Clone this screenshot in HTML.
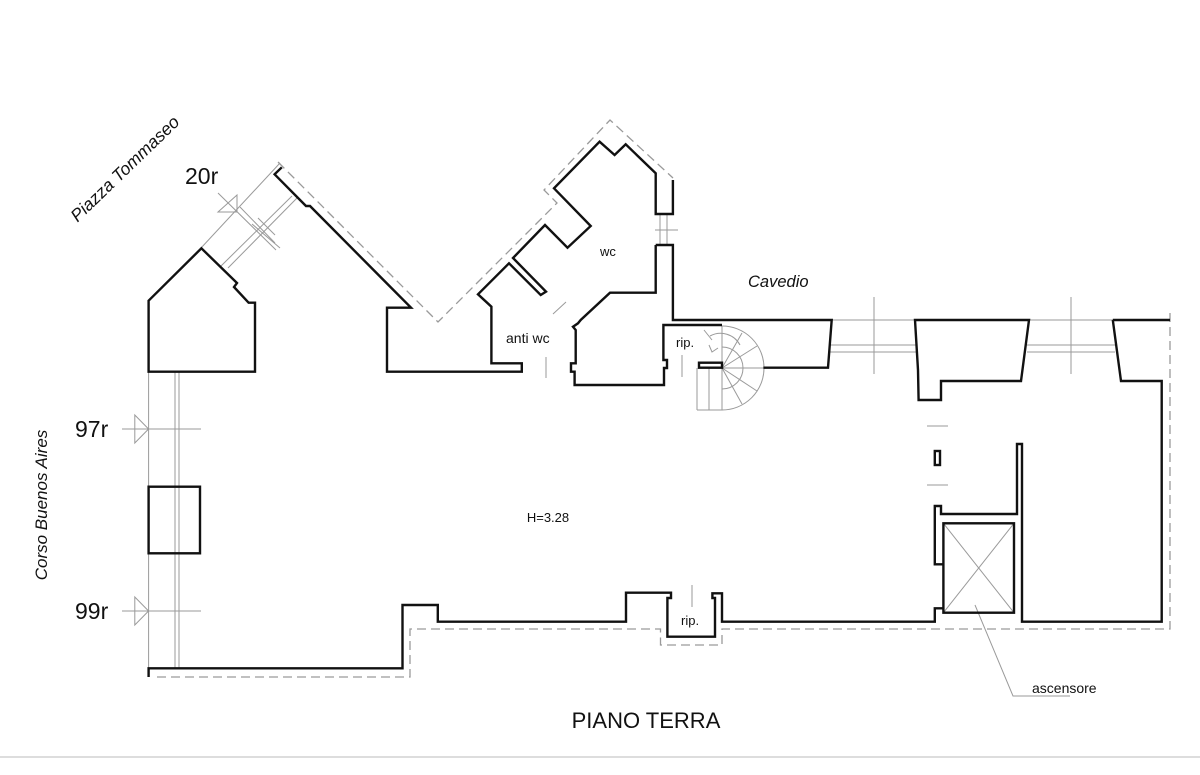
<!DOCTYPE html>
<html><head><meta charset="utf-8"><style>
html,body{margin:0;padding:0;background:#fff;}
svg{display:block;}
text{font-family:"Liberation Sans",sans-serif;fill:#111;}
</style></head><body>
<svg width="1200" height="775" viewBox="0 0 1200 775" xmlns="http://www.w3.org/2000/svg">
<rect width="1200" height="775" fill="#fff"/>
<g stroke="#9a9a9a" stroke-width="1" fill="none">
  <line x1="148.6" y1="372" x2="148.6" y2="668"/>
  <line x1="175" y1="372" x2="175" y2="668"/>
  <line x1="179" y1="372" x2="179" y2="668"/>
  <line x1="122" y1="429" x2="201" y2="429"/>
  <line x1="122" y1="611" x2="201" y2="611"/>
  <polygon points="134.8,415 148.6,429 134.8,443"/>
  <polygon points="134.8,597 148.6,611 134.8,625"/>
  <line x1="201" y1="248" x2="280" y2="163"/>
  <line x1="221" y1="266" x2="292" y2="196"/>
  <line x1="228" y1="268" x2="297" y2="198"/>
  <line x1="218" y1="193" x2="276" y2="250"/>
  <line x1="240" y1="207" x2="275" y2="243"/>
  <line x1="252" y1="224" x2="280" y2="248"/>
  <polygon points="218,212 237,195 237,212" />
  <line x1="258" y1="218" x2="275" y2="235"/>
  <line x1="831" y1="320" x2="915" y2="320"/>
  <line x1="830" y1="345" x2="917" y2="345"/>
  <line x1="830" y1="352" x2="917" y2="352"/>
  <line x1="1029" y1="320" x2="1113" y2="320"/>
  <line x1="1027" y1="345" x2="1115" y2="345"/>
  <line x1="1027" y1="352" x2="1115" y2="352"/>
  <line x1="1113" y1="320" x2="1170" y2="320"/>
  <line x1="874" y1="297" x2="874" y2="374"/>
  <line x1="1071" y1="297" x2="1071" y2="374"/>
  <line x1="660" y1="214" x2="660" y2="245"/>
  <line x1="667" y1="214" x2="667" y2="245"/>
  <line x1="655" y1="230" x2="678" y2="230"/>
  <line x1="546" y1="357" x2="546" y2="378"/>
  <line x1="553" y1="314" x2="566" y2="302"/>
  <line x1="682" y1="355" x2="682" y2="377"/>
  <line x1="692" y1="585" x2="692" y2="607"/>
  <line x1="927" y1="426" x2="948" y2="426"/>
  <line x1="927" y1="485" x2="948" y2="485"/>
  <line x1="943.4" y1="564" x2="943.4" y2="608"/>
  <path d="M722,326 A42,42 0 0 1 722,410"/>
  <path d="M722,347 A21,21 0 0 1 722,389"/>
  <line x1="722" y1="326" x2="722" y2="410"/>
  <line x1="697" y1="368" x2="697" y2="410"/>
  <line x1="709" y1="368" x2="709" y2="410"/>
  <line x1="697" y1="410" x2="722" y2="410"/>
  <line x1="722" y1="368" x2="742" y2="333"/>
  <line x1="722" y1="368" x2="757" y2="346"/>
  <line x1="722" y1="368" x2="764" y2="368"/>
  <line x1="722" y1="368" x2="757" y2="391"/>
  <line x1="722" y1="368" x2="742" y2="404"/>
  <path d="M710,336 A22,22 0 0 1 740,345"/>
  <line x1="704" y1="330" x2="712" y2="340"/>
  <polyline points="709,345 712,352 718,348"/>
  <line x1="943.4" y1="523.3" x2="1014" y2="612.7"/>
  <line x1="1014" y1="523.3" x2="943.4" y2="612.7"/>
  <polyline points="975,605 1013,696 1070,696"/>
</g>
<g stroke="#9a9a9a" stroke-width="1.3" fill="none" stroke-dasharray="9,5">
  <polyline points="278,162 438,322 557,203 544,190 610,120 673,178"/>
  <polyline points="157,677 410,677 410,629 660.5,629 660.5,645 722,645 722,629 1170,629 1170,312"/>
</g>
<g stroke="#111" stroke-width="2.4" fill="none" stroke-linejoin="miter">
  <polygon points="148.6,300.7 201.4,248.3 237,283 234,287 248.6,302.7 255,302.7 255,371.7 148.6,371.7"/>
  <polyline points="281.8,167.3 274.6,174.3 306,206 310,206 411,307.7 387,307.7 387,371.7 521.8,371.7 521.8,363.3 491.4,363.3 491.4,306.7 478,294.3 509,263.3 540.7,295 546,291.7 513,258 545,225 567.5,247.7 590.7,226 554,188.3 599.6,141.7 614.6,155 625.7,144.3 655.7,173.3 655.7,214 672.9,214 672.9,180"/>
  <polyline points="655.7,245 672.9,245 672.9,320 831.7,320 828,367.7 763.4,367.7"/>
  <polyline points="655.7,245 655.7,292.7 610,292.7 580.7,320 578,323.3 573,326.7 575.7,330 575.7,363.3 571,363.3 571,371.7 574.6,371.7 574.6,385 664,385 664,368 667,368 667,360 663.4,360 663.4,325 722,325"/>
  <rect x="699" y="362.7" width="23" height="5" />
  <polygon points="915,320 1029,320 1021,381 941,381 941,400 918.6,400 918,370"/>
  <polyline points="1112.8,320 1170,320"/>
  <polyline points="1112.8,320 1121,381 1161.7,381 1161.7,621.7 1022,621.7 1022,444 1017,444 1017,514 941,514 941,506 934.8,506 934.8,564.3 943.4,564.3"/>
  <rect x="943.4" y="523.3" width="70.6" height="89.4"/>
  <polyline points="943.4,608.3 934.8,608.3 934.8,621.7 722,621.7 722,593.3 712.4,593.3 712.4,598 715,598 715,636.7 667.4,636.7 667.4,598 671,598 671,592.7 626,592.7 626,621.7 437.8,621.7 437.8,605 402.5,605 402.5,668.3 148.6,668.3 148.6,677"/>
  <rect x="148.6" y="486.7" width="51.4" height="66.6"/>
  <rect x="934.8" y="451" width="5.2" height="14"/>
</g>
<text x="75" y="437" font-size="23">97r</text>
<text x="75" y="619" font-size="23">99r</text>
<text x="185" y="184" font-size="23">20r</text>
<text transform="translate(47,505) rotate(-90)" text-anchor="middle" font-size="17" font-style="italic">Corso Buenos Aires</text>
<text transform="translate(129,173) rotate(-44)" text-anchor="middle" font-size="17.5" font-style="italic">Piazza Tommaseo</text>
<text x="748" y="287" font-size="16.5" font-style="italic">Cavedio</text>
<text x="600" y="256" font-size="13">wc</text>
<text x="506" y="343" font-size="14">anti wc</text>
<text x="676" y="347" font-size="13">rip.</text>
<text x="681" y="625" font-size="13">rip.</text>
<text x="548" y="522" text-anchor="middle" font-size="13">H=3.28</text>
<text x="1032" y="693" font-size="14">ascensore</text>
<text x="646" y="728" text-anchor="middle" font-size="22">PIANO TERRA</text>
<line x1="0" y1="757" x2="1200" y2="757" stroke="#bbb" stroke-width="1"/>
</svg>
</body></html>
